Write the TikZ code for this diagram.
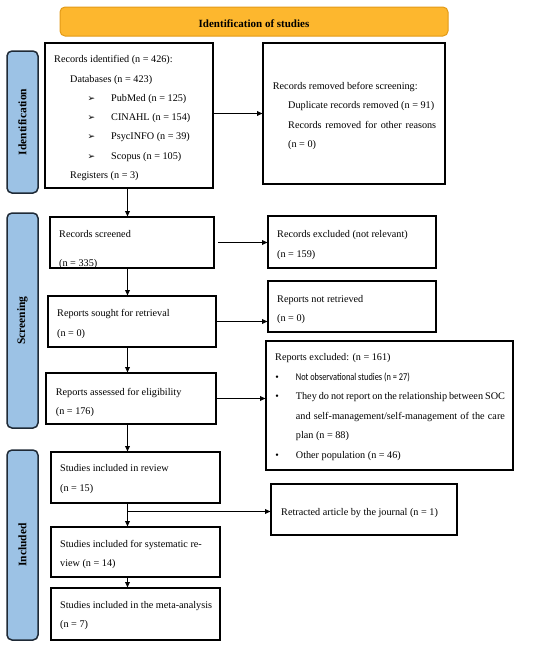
\documentclass[tikz,border=0pt]{standalone}
\usepackage{graphicx}
\usepackage{fontspec}
\setmainfont{Liberation Serif}
\newfontfamily\dejavu{DejaVu Sans}
\newfontfamily\carlito{Carlito}
\usetikzlibrary{arrows.meta}
\definecolor{hdrfill}{HTML}{FDB72E}
\definecolor{hdrdraw}{HTML}{E39A17}
\definecolor{sidefill}{HTML}{9CC2E5}
\definecolor{sidedraw}{HTML}{1F2A36}
\begin{document}
\begin{tikzpicture}[x=1pt,y=-1pt,
  box/.style={draw=black, line width=1.3pt, inner sep=0pt, outer sep=0pt, anchor=north west},
  side/.style={draw=sidedraw, fill=sidefill, line width=1.5pt, rounded corners=5pt, inner sep=0pt, outer sep=0pt, anchor=north west},
  hdr/.style={draw=hdrdraw, fill=hdrfill, line width=1pt, rounded corners=5pt, inner sep=0pt, outer sep=0pt, anchor=north west},
  txt/.style={anchor=base west, inner sep=0pt, font=\fontsize{10.2}{12}\selectfont},
  sml/.style={anchor=base west, inner sep=0pt, font=\fontsize{10.2}{12}\selectfont\carlito},
  bul/.style={anchor=base west, inner sep=0pt, font=\fontsize{9}{10}\selectfont\dejavu},
  dot/.style={anchor=base, inner sep=0pt, font=\fontsize{10}{12}\selectfont},
  sidetxt/.style={rotate=90, inner sep=0pt, font=\fontsize{11.5}{13}\selectfont\bfseries},
  arr/.style={-{Latex[length=6pt,width=5.5pt]}, line width=0.9pt}]
\useasboundingbox (0,0) rectangle (550,648);

% header and side labels
\node[hdr, minimum width=388pt, minimum height=29pt] (hdr) at (60,7) {};
\node[anchor=base, inner sep=0pt, font=\fontsize{11}{13}\selectfont\bfseries] (hdrtxt) at (254,27.5) {Identification of studies};
\node[side, minimum width=31pt, minimum height=142pt] (sideI) at (7,51) {};
\node[side, minimum width=31pt, minimum height=215pt] (sideS) at (7,213) {};
\node[side, minimum width=31pt, minimum height=190pt] (sideN) at (7,450) {};
\node[sidetxt] (sideItxt) at (sideI.center) {Identification};
\node[sidetxt] (sideStxt) at (sideS.center) {Screening};
\node[sidetxt] (sideNtxt) at (sideN.center) {Included};

% boxes
\node[box, minimum width=168pt, minimum height=145pt] (ident) at (45,43) {};
\node[box, minimum width=182pt, minimum height=141pt] (removed) at (263,43) {};
\node[box, minimum width=164pt, minimum height=51pt] (screened) at (50,217) {};
\node[box, minimum width=168pt, minimum height=52pt] (excluded) at (268,216) {};
\node[box, minimum width=168pt, minimum height=51pt] (sought) at (48,296) {};
\node[box, minimum width=168pt, minimum height=51pt] (notret) at (268,281) {};
\node[box, minimum width=247pt, minimum height=129pt] (rexcl) at (266,341) {};
\node[box, minimum width=170pt, minimum height=51pt] (assessed) at (46,373) {};
\node[box, minimum width=169pt, minimum height=51pt] (review) at (51,452) {};
\node[box, minimum width=186pt, minimum height=51pt] (retract) at (271,484) {};
\node[box, minimum width=169pt, minimum height=50pt] (sysrev) at (51,527) {};
\node[box, minimum width=169pt, minimum height=52pt] (meta) at (51,588) {};

% texts: identification
\node[txt] (i1) at (54,62) {Records identified (n = 426):};
\node[txt] (i2) at (70,82) {Databases (n = 423)};
\node[bul] (b1) at (87.5,101) {\char"27A2};
\node[bul] (b2) at (87.5,120) {\char"27A2};
\node[bul] (b3) at (87.5,139.5) {\char"27A2};
\node[bul] (b4) at (87.5,159) {\char"27A2};
\node[txt] (i3) at (111,101) {PubMed (n = 125)};
\node[txt] (i4) at (111,120) {CINAHL (n = 154)};
\node[txt] (i5) at (111,139.5) {PsycINFO (n = 39)};
\node[txt] (i6) at (111,159) {Scopus (n = 105)};
\node[txt] (i7) at (70,178) {Registers (n = 3)};

\node[txt] (r1) at (272.7,89) {Records removed before screening:};
\node[txt] (r2) at (288,108) {Duplicate records removed (n = 91)};
\node[txt] (r3) at (288,128) {\makebox[148pt][s]{Records removed for other reasons}};
\node[txt] (r4) at (288,147.5) {(n = 0)};

% screening
\node[txt] (s1) at (59,237) {Records screened};
\node[txt] (s2) at (59,266) {(n = 335)};
\node[txt] (e1) at (277,237) {Records excluded (not relevant)};
\node[txt] (e2) at (277,257) {(n = 159)};
\node[txt] (g1) at (57,316) {Reports sought for retrieval};
\node[txt] (g2) at (57,336) {(n = 0)};
\node[txt] (n1) at (277,302) {Reports not retrieved};
\node[txt] (n2) at (277,321) {(n = 0)};
\node[txt] (a1) at (55.7,395) {Reports assessed for eligibility};
\node[txt] (a2) at (55.7,414) {(n = 176)};

\node[txt] (x1) at (275,360) {Reports excluded: (n = 161)};
\node[dot] (d1) at (277,380) {\textbullet};
\node[dot] (d2) at (277,399.5) {\textbullet};
\node[dot] (d3) at (277,458) {\textbullet};
\node[sml] (x2) at (295.7,380) {\resizebox{114pt}{7.6pt}{Not observational studies (n = 27)}};
\node[txt] (x3) at (295.7,399.5) {\makebox[209pt][s]{They do not report on the relationship between SOC}};
\node[txt] (x4) at (295.7,419) {\makebox[209pt][s]{and self-management/self-management of the care}};
\node[txt] (x5) at (295.7,438.5) {plan (n = 88)};
\node[txt] (x6) at (295.7,458) {Other population (n = 46)};

% included
\node[txt] (v1) at (60,471) {Studies included in review};
\node[txt] (v2) at (60,491) {(n = 15)};
\node[txt] (t1) at (281,515) {Retracted article by the journal (n = 1)};
\node[txt] (y1) at (60,547) {Studies included for systematic re-};
\node[txt] (y2) at (60,566) {view (n = 14)};
\node[txt] (m1) at (60,608) {Studies included in the meta-analysis};
\node[txt] (m2) at (60,627.5) {(n = 7)};

% connectors
\coordinate (col) at (127.5,0);
\coordinate (br) at (127.5,511.5);
\draw[arr] (ident.east |- removed.west) -- (removed.west);
\draw[arr] (ident.south -| col) -- (screened.north -| col);
\draw[arr] (screened.south -| col) -- (sought.north -| col);
\draw[arr] (sought.south -| col) -- (assessed.north -| col);
\draw[arr] (assessed.south -| col) -- (review.north -| col);
\draw[arr] (review.south -| col) -- (sysrev.north -| col);
\draw[arr] (sysrev.south -| col) -- (meta.north -| col);
\draw[arr] (br) -- (br -| retract.west);
\draw[arr, shorten <=4pt] (screened.east) -- (screened.east -| excluded.west);
\draw[arr] (sought.east) -- (sought.east -| notret.west);
\draw[arr] (assessed.east) -- (assessed.east -| rexcl.west);
\end{tikzpicture}
\end{document}
